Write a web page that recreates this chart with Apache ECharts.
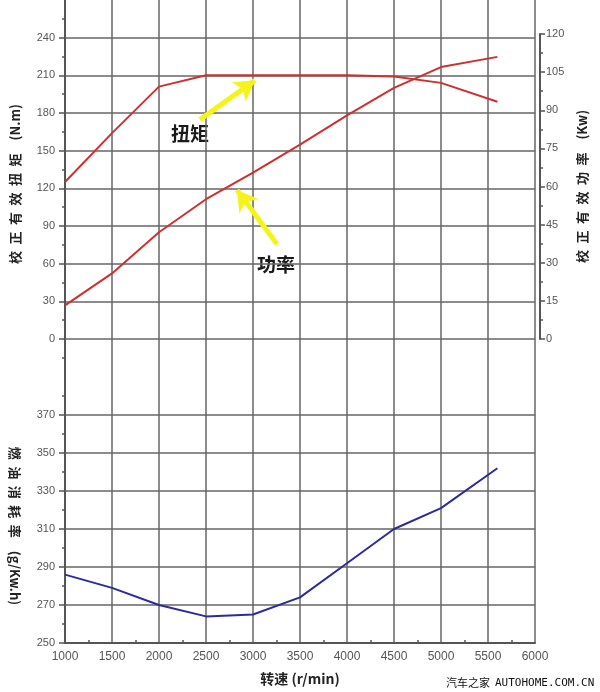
<!DOCTYPE html>
<html><head><meta charset="utf-8">
<script src="https://cdn.jsdelivr.net/npm/echarts@6/dist/echarts.min.js"></script>
<style>html,body{margin:0;padding:0;background:#fff}#c{width:600px;height:692px}</style>
</head><body><div id="c"></div>
<script>
// ---- data ----
const rpm    = [1000, 1500, 2000, 2500, 3000, 3500, 4000, 4500, 5000, 5600];
const torque = [125, 164, 201, 210, 210, 210, 210, 209, 204, 189];      // N.m
const power  = [13.2, 25.8, 42, 55, 65.5, 76.5, 88, 98.8, 107, 111];    // kW
const bsfc   = [286, 279, 270, 264, 265, 274, 292, 310, 321, 342];      // g/kW.h

const torqueTicks = [0, 30, 60, 90, 120, 150, 180, 210, 240];
const powerTicks  = [0, 15, 30, 45, 60, 75, 90, 105, 120];
const bsfcTicks   = [250, 270, 290, 310, 330, 350, 370];
const rpmTicks    = [1000, 1500, 2000, 2500, 3000, 3500, 4000, 4500, 5000, 5500, 6000];

// annotation arrows (data coordinates)
const torqueArrow = [[2436, 174.7], [3021, 206]];
const powerArrow  = [[3255, 37.4], [2830, 58.6]];

const GRID = '#666';
const AXIS = '#555';
const LBL  = '#555';
const sans = '"Liberation Sans", Arial, sans-serif';
const cjk  = '"Noto Sans CJK SC", sans-serif';

const chart = echarts.init(document.getElementById('c'), null, {renderer: 'canvas'});

const lblStyle = {color: LBL, fontSize: 11, fontFamily: sans, formatter: v => String(v)};

function leftY(grid, min, max, interval, ticks) {
  return {
    type: 'value', gridIndex: grid, position: 'left', min, max, interval,
    axisLine: {show: true, lineStyle: {color: AXIS, width: 2}},
    axisTick: {show: true, length: 6, customValues: ticks, lineStyle: {color: AXIS, width: 1.5}},
    minorTick: {show: true, splitNumber: 2, length: 3, lineStyle: {color: AXIS, width: 1.5}},
    axisLabel: Object.assign({customValues: ticks, margin: 10}, lblStyle),
    splitLine: {show: true, lineStyle: {color: GRID, width: 1.5}}
  };
}

const option = {
  animation: false,
  backgroundColor: '#fff',
  grid: [
    {left: 65, top: -4, width: 470, height: 343},
    {left: 65, top: 339, width: 470, height: 304},
    {left: 65, top: 34, width: 470, height: 305}
  ],
  xAxis: [
    {type: 'value', gridIndex: 0, min: 1000, max: 6000, interval: 500,
     axisLine: {show: false}, axisTick: {show: false}, axisLabel: {show: false},
     splitLine: {show: true, lineStyle: {color: GRID, width: 1.5}}},
    {type: 'value', gridIndex: 1, min: 1000, max: 6000, interval: 500,
     axisLine: {show: true, lineStyle: {color: AXIS, width: 2}},
     axisTick: {show: false, inside: true},
     minorTick: {show: true, splitNumber: 2, length: 3, lineStyle: {color: AXIS, width: 1.5}},
     axisLabel: Object.assign({customValues: rpmTicks, margin: 8}, lblStyle, {fontSize: 12}),
     splitLine: {show: true, lineStyle: {color: GRID, width: 1.5}},
     name: '转速 (r/min)', nameLocation: 'middle', nameGap: 29,
     nameTextStyle: {fontFamily: cjk, fontWeight: 'bold', fontSize: 14, color: '#222'}},
    {type: 'value', gridIndex: 2, min: 1000, max: 6000, interval: 500, show: false}
  ],
  yAxis: [
    leftY(0, 0, 270, 30, torqueTicks),
    leftY(1, 250, 410, 20, bsfcTicks),
    {type: 'value', gridIndex: 2, position: 'right', offset: 5, min: 0, max: 120, interval: 15,
     axisLine: {show: true, lineStyle: {color: AXIS, width: 2}},
     axisTick: {show: true, length: 5, customValues: powerTicks, lineStyle: {color: AXIS, width: 1.5}},
     minorTick: {show: true, splitNumber: 2, length: 3, lineStyle: {color: AXIS, width: 1.5}},
     axisLabel: Object.assign({customValues: powerTicks, margin: 6}, lblStyle),
     splitLine: {show: false},
     name: '校\u2002正\u2002有\u2002效\u2002功\u2002率\u2003(Kw)', nameLocation: 'middle', nameRotate: 90, nameGap: 36,
     nameTextStyle: {fontFamily: cjk, fontWeight: 'bold', fontSize: 13, color: '#222'}}
  ],
  series: [
    {name: '扭矩', type: 'line', xAxisIndex: 0, yAxisIndex: 0, symbol: 'none', z: 3,
     data: rpm.map((r, i) => [r, torque[i]]),
     lineStyle: {color: '#cf2f2f', width: 2},
     markLine: {silent: true, symbol: ['none', 'arrow'], symbolSize: [18, 20],
       label: {show: false}, lineStyle: {color: '#f4f41c', width: 5, type: 'solid'},
       data: [[{coord: torqueArrow[0]}, {coord: torqueArrow[1]}]]}},
    {name: '功率', type: 'line', xAxisIndex: 2, yAxisIndex: 2, symbol: 'none', z: 3,
     data: rpm.map((r, i) => [r, power[i]]),
     lineStyle: {color: '#cf2f2f', width: 2},
     markLine: {silent: true, symbol: ['none', 'arrow'], symbolSize: [18, 20],
       label: {show: false}, lineStyle: {color: '#f4f41c', width: 5, type: 'solid'},
       data: [[{coord: powerArrow[0]}, {coord: powerArrow[1]}]]}},
    {name: '燃油消耗率', type: 'line', xAxisIndex: 1, yAxisIndex: 1, symbol: 'none', z: 3,
     data: rpm.map((r, i) => [r, bsfc[i]]),
     lineStyle: {color: '#2b2b9c', width: 2}}
  ],
  graphic: [
    {type: 'text', x: 15, y: 184, rotation: Math.PI / 2,
     style: {text: '校\u2002正\u2002有\u2002效\u2002扭\u2002矩\u2003(N.m)', align: 'center', verticalAlign: 'middle',
             font: 'bold 13px ' + cjk, fill: '#222'}},
    {type: 'text', x: 15, y: 526, rotation: -Math.PI / 2,
     style: {text: '燃\u2002油\u2002消\u2002耗\u2002率\u2003(g/Kw.h)', align: 'center', verticalAlign: 'middle',
             font: 'bold 13px ' + cjk, fill: '#222'}},
    {type: 'text', x: 190, y: 134,
     style: {text: '扭矩', align: 'center', verticalAlign: 'middle', font: 'bold 19px ' + cjk, fill: '#1a1a1a'}},
    {type: 'text', x: 276, y: 265,
     style: {text: '功率', align: 'center', verticalAlign: 'middle', font: 'bold 19px ' + cjk, fill: '#1a1a1a'}},
    {type: 'text', x: 446, y: 683,
     style: {text: '汽车之家', align: 'left', verticalAlign: 'middle', font: '11px ' + cjk, fill: '#111'}},
    {type: 'text', x: 495, y: 683,
     style: {text: 'AUTOHOME.COM.CN', align: 'left', verticalAlign: 'middle', font: '11px "DejaVu Sans Mono", monospace', fill: '#111'}}
  ]
};
chart.setOption(option);
</script>
</body></html>
